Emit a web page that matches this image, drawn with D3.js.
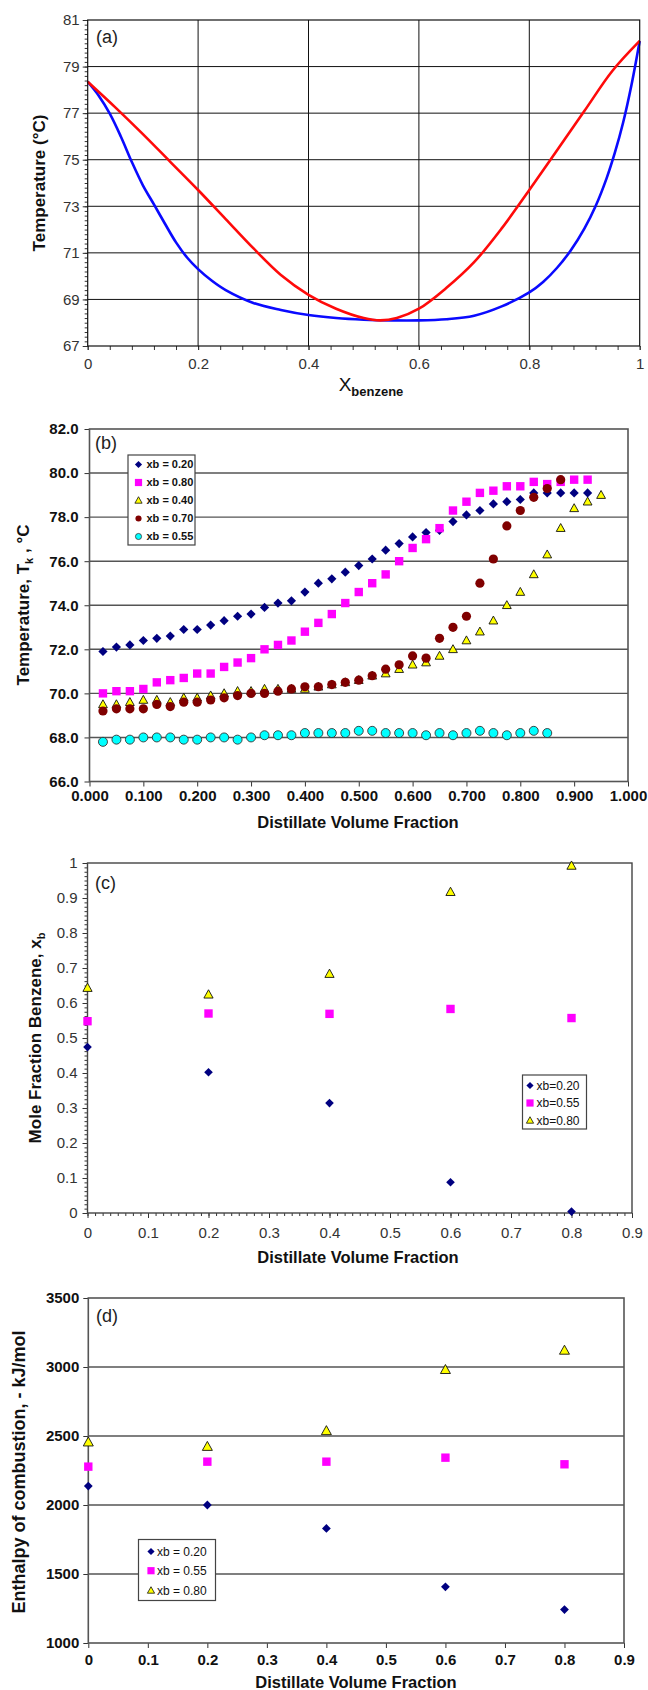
<!DOCTYPE html>
<html>
<head>
<meta charset="utf-8">
<script src="https://cdn.jsdelivr.net/npm/d3@7"></script>
<style>
  body { margin: 0; background: #fff; }
  svg { display: block; }
  text { font-family: "Liberation Sans", Arial, sans-serif; }
</style>
</head>
<body>
<div id="chart"></div>
<script>
// ---------- (a) T-x diagram ----------
const liquidX = [0, 0.02, 0.04, 0.06, 0.08, 0.1, 0.12, 0.14, 0.16, 0.18, 0.2, 0.225, 0.25, 0.3, 0.35, 0.4, 0.45, 0.5, 0.55, 0.6, 0.65, 0.7, 0.75, 0.8, 0.825, 0.85, 0.875, 0.9, 0.92, 0.94, 0.955, 0.97, 0.985, 1.0];
const liquidT = [78.35, 77.75, 76.98, 76.0, 74.9, 73.9, 73.08, 72.25, 71.45, 70.8, 70.3, 69.8, 69.4, 68.85, 68.55, 68.33, 68.2, 68.13, 68.1, 68.1, 68.15, 68.3, 68.7, 69.3, 69.75, 70.35, 71.1, 72.05, 73.0, 74.2, 75.3, 76.6, 78.2, 80.1];
const vapourX = [0, 0.05, 0.1, 0.15, 0.2, 0.25, 0.3, 0.35, 0.4, 0.45, 0.5, 0.53, 0.56, 0.6, 0.65, 0.7, 0.75, 0.8, 0.85, 0.9, 0.95, 1.0];
const vapourT = [78.35, 77.25, 76.1, 74.9, 73.7, 72.45, 71.2, 70.05, 69.2, 68.6, 68.2, 68.1, 68.2, 68.6, 69.5, 70.6, 72.05, 73.7, 75.4, 77.1, 78.8, 80.1];
const aXTicks = [0, 0.2, 0.4, 0.6, 0.8, 1];
const aYTicks = [67, 69, 71, 73, 75, 77, 79, 81];

// ---------- (b) distillation curves ----------
const distFracB = [0.025, 0.05, 0.075, 0.1, 0.125, 0.15, 0.175, 0.2, 0.225, 0.25, 0.275, 0.3, 0.325, 0.35, 0.375, 0.4, 0.425, 0.45, 0.475, 0.5, 0.525, 0.55, 0.575, 0.6, 0.625, 0.65, 0.675, 0.7, 0.725, 0.75, 0.775, 0.8, 0.825, 0.85, 0.875, 0.9, 0.925, 0.95];
const tXb020 = [71.9, 72.1, 72.2, 72.4, 72.5, 72.6, 72.9, 72.9, 73.1, 73.3, 73.5, 73.6, 73.9, 74.1, 74.2, 74.6, 75.0, 75.2, 75.5, 75.8, 76.1, 76.5, 76.8, 77.1, 77.3, 77.4, 77.8, 78.1, 78.3, 78.6, 78.7, 78.8, 79.1, 79.1, 79.1, 79.1, 79.1];
const tXb080 = [70.0, 70.1, 70.1, 70.2, 70.5, 70.6, 70.7, 70.9, 70.9, 71.2, 71.4, 71.6, 72.0, 72.2, 72.4, 72.8, 73.2, 73.6, 74.1, 74.6, 75.0, 75.4, 76.0, 76.6, 77.0, 77.5, 78.3, 78.7, 79.1, 79.2, 79.4, 79.4, 79.6, 79.5, 79.6, 79.7, 79.7];
const tXb040 = [69.5, 69.5, 69.6, 69.7, 69.7, 69.6, 69.8, 69.8, 69.9, 70.0, 70.1, 70.1, 70.2, 70.2, 70.2, 70.2, 70.3, 70.4, 70.5, 70.6, 70.8, 70.9, 71.1, 71.3, 71.4, 71.7, 72.0, 72.4, 72.8, 73.3, 74.0, 74.6, 75.4, 76.3, 77.5, 78.4, 78.7, 79.0];
const tXb070 = [69.2, 69.3, 69.3, 69.3, 69.5, 69.4, 69.6, 69.6, 69.7, 69.8, 69.9, 70.0, 70.0, 70.1, 70.2, 70.3, 70.3, 70.4, 70.5, 70.6, 70.8, 71.1, 71.3, 71.7, 71.6, 72.5, 73.0, 73.5, 75.0, 76.1, 77.6, 78.3, 78.9, 79.3, 79.7];
const tXb055 = [67.8, 67.9, 67.9, 68.0, 68.0, 68.0, 67.9, 67.9, 68.0, 68.0, 67.9, 68.0, 68.1, 68.1, 68.1, 68.2, 68.2, 68.2, 68.2, 68.3, 68.3, 68.2, 68.2, 68.2, 68.1, 68.2, 68.1, 68.2, 68.3, 68.2, 68.1, 68.2, 68.3, 68.2];
const bXTicks = [0, 0.1, 0.2, 0.3, 0.4, 0.5, 0.6, 0.7, 0.8, 0.9, 1.0];
const bYTicks = [66, 68, 70, 72, 74, 76, 78, 80, 82];

// ---------- (c) mole fraction / (d) enthalpy ----------
const distFracCD = [0, 0.2, 0.4, 0.6, 0.8];
const molXb020 = [0.474, 0.402, 0.314, 0.088, 0.004];
const molXb055 = [0.548, 0.570, 0.569, 0.583, 0.557];
const molXb080 = [0.643, 0.624, 0.683, 0.917, 0.992];
const enthXb020 = [2137, 2000, 1830, 1407, 1242];
const enthXb055 = [2278, 2314, 2314, 2343, 2295];
const enthXb080 = [2455, 2423, 2537, 2980, 3120];
const cdXTicks = [0, 0.1, 0.2, 0.3, 0.4, 0.5, 0.6, 0.7, 0.8, 0.9];
const cYTicks = [0, 0.1, 0.2, 0.3, 0.4, 0.5, 0.6, 0.7, 0.8, 0.9, 1];
const dYTicks = [1000, 1500, 2000, 2500, 3000, 3500];

const width = 648;
const height = 1690;

const svg = d3.select("#chart")
    .append("svg")
    .attr("width", width)
    .attr("height", height)
    .attr("viewBox", [0, 0, width, height]);

// marker shapes, r = half width
function markerPath(type, r) {
    if (type === "diamond") return `M0,${-r}L${r},0L0,${r}L${-r},0Z`;
    if (type === "square") return `M${-r},${-r}H${r}V${r}H${-r}Z`;
    if (type === "triangle") return `M0,${-r * 1.05}L${r},${r * 0.75}L${-r},${r * 0.75}Z`;
    return d3.arc()({ innerRadius: 0, outerRadius: r, startAngle: 0, endAngle: 2 * Math.PI });
}

const styles = {
    s020: { type: "diamond", fill: "#000080", stroke: "none" },
    s080: { type: "square", fill: "#ff00ff", stroke: "none" },
    s040: { type: "triangle", fill: "#ffff00", stroke: "#111" },
    s070: { type: "circle", fill: "#800000", stroke: "none" },
    s055: { type: "circle", fill: "#00ffff", stroke: "#333" }
};

function drawPoints(g, xs, ys, x, y, st, r) {
    g.append("g")
        .selectAll("path")
        .data(ys.map((v, i) => [xs[i], v]))
        .join("path")
        .attr("transform", d => `translate(${x(d[0])},${y(d[1])})`)
        .attr("d", markerPath(st.type, r))
        .attr("fill", st.fill)
        .attr("stroke", st.stroke)
        .attr("stroke-width", 0.9);
}

function drawLegend(g, x0, y0, w, h, items, mx, tx, rows, fontSize, weight, r) {
    const lg = g.append("g");
    lg.append("rect")
        .attr("x", x0).attr("y", y0).attr("width", w).attr("height", h)
        .attr("fill", "#fff").attr("stroke", "#444").attr("stroke-width", 1.2);
    items.forEach((it, i) => {
        lg.append("path")
            .attr("transform", `translate(${mx},${rows[i]})`)
            .attr("d", markerPath(it.st.type, it.st.type === "circle" ? r * 0.85 : r))
            .attr("fill", it.st.fill)
            .attr("stroke", it.st.stroke)
            .attr("stroke-width", 0.8);
        lg.append("text")
            .attr("x", tx).attr("y", rows[i]).attr("dy", "0.36em")
            .attr("font-size", fontSize).attr("font-weight", weight)
            .attr("fill", "#111")
            .text(it.label);
    });
}

function styleAxis(sel, fontSize, weight, color) {
    sel.select(".domain").remove();
    sel.selectAll(".tick line").attr("stroke", "#333");
    sel.selectAll(".tick text")
        .attr("font-size", fontSize)
        .attr("font-weight", weight)
        .attr("fill", color)
        .attr("font-family", "'Liberation Sans', Arial, sans-serif");
}

// =================== (a) ===================
{
    const x = d3.scaleLinear().domain([0, 1]).range([87.7, 639.7]);
    const y = d3.scaleLinear().domain([67, 81]).range([346, 20]);
    const g = svg.append("g");

    g.append("g").selectAll("line")
        .data(aYTicks.slice(1, -1))
        .join("line")
        .attr("x1", x(0)).attr("x2", x(1))
        .attr("y1", d => y(d)).attr("y2", d => y(d))
        .attr("stroke", "#111").attr("stroke-width", 1);
    g.append("g").selectAll("line")
        .data(aXTicks.slice(1, -1))
        .join("line")
        .attr("x1", d => x(d)).attr("x2", d => x(d))
        .attr("y1", y(67)).attr("y2", y(81))
        .attr("stroke", "#111").attr("stroke-width", 1);

    // minor ticks
    g.append("g").attr("transform", `translate(0,${y(67)})`)
        .call(d3.axisBottom(x).tickValues(d3.range(0, 26).map(i => i * 0.04)).tickSize(4).tickFormat(""))
        .call(s => styleAxis(s, 0, "normal", "#333"));
    g.append("g").attr("transform", `translate(${x(0)},0)`)
        .call(d3.axisLeft(y).tickValues(d3.range(0, 71).map(i => 67 + i * 0.2)).tickSize(3).tickFormat(""))
        .call(s => styleAxis(s, 0, "normal", "#333"));

    g.append("g").attr("transform", `translate(0,${y(67)})`)
        .call(d3.axisBottom(x).tickValues(aXTicks).tickSize(4).tickPadding(8).tickFormat(d3.format("")))
        .call(s => styleAxis(s, 15, "normal", "#333"));
    g.append("g").attr("transform", `translate(${x(0)},0)`)
        .call(d3.axisLeft(y).tickValues(aYTicks).tickSize(5).tickPadding(3))
        .call(s => styleAxis(s, 15, "normal", "#333"));

    const line = d3.line().x(d => x(d[0])).y(d => y(d[1])).curve(d3.curveCatmullRom.alpha(0.5));
    g.append("path")
        .datum(liquidX.map((v, i) => [v, liquidT[i]]))
        .attr("d", line)
        .attr("fill", "none").attr("stroke", "#0a0aff").attr("stroke-width", 2.6);
    g.append("path")
        .datum(vapourX.map((v, i) => [v, vapourT[i]]))
        .attr("d", line)
        .attr("fill", "none").attr("stroke", "#ff0a0a").attr("stroke-width", 2.6);

    g.append("rect")
        .attr("x", x(0)).attr("y", y(81))
        .attr("width", x(1) - x(0)).attr("height", y(67) - y(81))
        .attr("fill", "none").attr("stroke", "#111").attr("stroke-width", 1.2);

    g.append("text").attr("x", 96).attr("y", 43).attr("font-size", 18).attr("fill", "#222").text("(a)");

    g.append("text")
        .attr("transform", "translate(39,183) rotate(-90)")
        .attr("text-anchor", "middle").attr("dy", "0.35em")
        .attr("font-size", 17).attr("font-weight", "bold").attr("fill", "#111")
        .text("Temperature (°C)");

    const xt = g.append("text")
        .attr("x", 371).attr("y", 391)
        .attr("text-anchor", "middle").attr("fill", "#111");
    xt.append("tspan").attr("font-size", 19).text("X");
    xt.append("tspan").attr("font-size", 13).attr("font-weight", "bold").attr("dy", 5).text("benzene");
}

// =================== (b) ===================
{
    const x = d3.scaleLinear().domain([0, 1]).range([89.5, 628]);
    const y = d3.scaleLinear().domain([66, 82]).range([781.5, 429]);
    const g = svg.append("g");

    g.append("g").selectAll("line")
        .data(bYTicks.slice(1, -1))
        .join("line")
        .attr("x1", x(0)).attr("x2", x(1))
        .attr("y1", d => y(d)).attr("y2", d => y(d))
        .attr("stroke", "#555").attr("stroke-width", 1.4);

    g.append("g").attr("transform", `translate(0,${y(66)})`)
        .call(d3.axisBottom(x).tickValues(bXTicks).tickSize(5).tickPadding(4).tickFormat(d3.format(".3f")))
        .call(s => styleAxis(s, 15, "bold", "#111"));
    g.append("g").attr("transform", `translate(${x(0)},0)`)
        .call(d3.axisLeft(y).tickValues(bYTicks).tickSize(5).tickPadding(6).tickFormat(d3.format(".1f")))
        .call(s => styleAxis(s, 15, "bold", "#111"));

    g.append("rect")
        .attr("x", x(0)).attr("y", y(82))
        .attr("width", x(1) - x(0)).attr("height", y(66) - y(82))
        .attr("fill", "none").attr("stroke", "#555").attr("stroke-width", 1.6);

    drawPoints(g, distFracB, tXb020, x, y, styles.s020, 4.6);
    drawPoints(g, distFracB, tXb080, x, y, styles.s080, 4.2);
    drawPoints(g, distFracB, tXb040, x, y, styles.s040, 4.4);
    drawPoints(g, distFracB, tXb070, x, y, styles.s070, 4.6);
    drawPoints(g, distFracB, tXb055, x, y, styles.s055, 4.5);

    drawLegend(g, 128, 455, 67, 90, [
        { st: styles.s020, label: "xb = 0.20" },
        { st: styles.s080, label: "xb = 0.80" },
        { st: styles.s040, label: "xb = 0.40" },
        { st: styles.s070, label: "xb = 0.70" },
        { st: styles.s055, label: "xb = 0.55" }
    ], 138.5, 146.5, [464.5, 482.5, 500.5, 518.5, 536.5], 11, "bold", 3.6);

    g.append("text").attr("x", 95).attr("y", 449).attr("font-size", 18).attr("fill", "#222").text("(b)");

    const yt = g.append("text")
        .attr("transform", "translate(23,605) rotate(-90)")
        .attr("text-anchor", "middle").attr("dy", "0.35em")
        .attr("font-size", 17).attr("font-weight", "bold").attr("fill", "#111");
    yt.append("tspan").text("Temperature, T");
    yt.append("tspan").attr("font-size", 11).attr("dy", 4).text("k");
    yt.append("tspan").attr("dy", -4).text(" , °C");

    g.append("text")
        .attr("x", 358).attr("y", 822).attr("dy", "0.35em")
        .attr("text-anchor", "middle")
        .attr("font-size", 16.5).attr("font-weight", "bold").attr("fill", "#111")
        .text("Distillate Volume Fraction");
}

// =================== (c) ===================
{
    const x = d3.scaleLinear().domain([0, 0.9]).range([87.5, 632]);
    const y = d3.scaleLinear().domain([0, 1]).range([1213, 863]);
    const g = svg.append("g");

    g.append("g").attr("transform", `translate(0,${y(0)})`)
        .call(d3.axisBottom(x).tickValues(d3.range(0, 73).map(i => i * 0.0125)).tickSize(3).tickFormat(""))
        .call(s => styleAxis(s, 0, "normal", "#333"));
    g.append("g").attr("transform", `translate(${x(0)},0)`)
        .call(d3.axisLeft(y).tickValues(d3.range(0, 81).map(i => i * 0.0125)).tickSize(3).tickFormat(""))
        .call(s => styleAxis(s, 0, "normal", "#333"));

    g.append("g").attr("transform", `translate(0,${y(0)})`)
        .call(d3.axisBottom(x).tickValues(cdXTicks).tickSize(5).tickPadding(9).tickFormat(d3.format("")))
        .call(s => styleAxis(s, 15, "normal", "#333"));
    g.append("g").attr("transform", `translate(${x(0)},0)`)
        .call(d3.axisLeft(y).tickValues(cYTicks).tickSize(5).tickPadding(5).tickFormat(d3.format("")))
        .call(s => styleAxis(s, 15, "normal", "#333"));

    g.append("rect")
        .attr("x", x(0)).attr("y", y(1))
        .attr("width", x(0.9) - x(0)).attr("height", y(0) - y(1))
        .attr("fill", "none").attr("stroke", "#444").attr("stroke-width", 1.4);

    drawPoints(g, distFracCD, molXb020, x, y, styles.s020, 4.3);
    drawPoints(g, distFracCD, molXb055, x, y, styles.s080, 4.2);
    drawPoints(g, distFracCD, molXb080, x, y, styles.s040, 4.6);

    drawLegend(g, 522.5, 1075, 64, 54, [
        { st: styles.s020, label: "xb=0.20" },
        { st: styles.s080, label: "xb=0.55" },
        { st: styles.s040, label: "xb=0.80" }
    ], 530, 536.5, [1085.5, 1103, 1120.5], 12, "normal", 3.6);

    g.append("text").attr("x", 95).attr("y", 889).attr("font-size", 18).attr("fill", "#222").text("(c)");

    const yt = g.append("text")
        .attr("transform", "translate(35,1038) rotate(-90)")
        .attr("text-anchor", "middle").attr("dy", "0.35em")
        .attr("font-size", 17).attr("font-weight", "bold").attr("fill", "#111");
    yt.append("tspan").text("Mole Fraction Benzene, x");
    yt.append("tspan").attr("font-size", 11).attr("dy", 4).text("b");

    g.append("text")
        .attr("x", 358).attr("y", 1257).attr("dy", "0.35em")
        .attr("text-anchor", "middle")
        .attr("font-size", 16.5).attr("font-weight", "bold").attr("fill", "#111")
        .text("Distillate Volume Fraction");
}

// =================== (d) ===================
{
    const x = d3.scaleLinear().domain([0, 0.9]).range([88.3, 624]);
    const y = d3.scaleLinear().domain([1000, 3500]).range([1643, 1298]);
    const g = svg.append("g");

    g.append("g").selectAll("line")
        .data(dYTicks.slice(1, -1))
        .join("line")
        .attr("x1", x(0)).attr("x2", x(0.9))
        .attr("y1", d => y(d)).attr("y2", d => y(d))
        .attr("stroke", "#555").attr("stroke-width", 1.4);

    g.append("g").attr("transform", `translate(0,${y(1000)})`)
        .call(d3.axisBottom(x).tickValues(cdXTicks).tickSize(5).tickPadding(6).tickFormat(d3.format("")))
        .call(s => styleAxis(s, 15, "bold", "#111"));
    g.append("g").attr("transform", `translate(${x(0)},0)`)
        .call(d3.axisLeft(y).tickValues(dYTicks).tickSize(5).tickPadding(4).tickFormat(d3.format("d")))
        .call(s => styleAxis(s, 15, "bold", "#111"));

    g.append("rect")
        .attr("x", x(0)).attr("y", y(3500))
        .attr("width", x(0.9) - x(0)).attr("height", y(1000) - y(3500))
        .attr("fill", "none").attr("stroke", "#555").attr("stroke-width", 1.6);

    drawPoints(g, distFracCD, enthXb020, x, y, styles.s020, 4.4);
    drawPoints(g, distFracCD, enthXb055, x, y, styles.s080, 4.2);
    drawPoints(g, distFracCD, enthXb080, x, y, styles.s040, 5);

    drawLegend(g, 138.5, 1539.5, 77, 61, [
        { st: styles.s020, label: "xb = 0.20" },
        { st: styles.s080, label: "xb = 0.55" },
        { st: styles.s040, label: "xb = 0.80" }
    ], 151, 157, [1551.5, 1570.7, 1590.5], 12, "normal", 3.6);

    g.append("text").attr("x", 96).attr("y", 1322).attr("font-size", 18).attr("fill", "#222").text("(d)");

    g.append("text")
        .attr("transform", "translate(19,1472) rotate(-90)")
        .attr("text-anchor", "middle").attr("dy", "0.35em")
        .attr("font-size", 18).attr("font-weight", "bold").attr("fill", "#111")
        .text("Enthalpy of combustion, - kJ/mol");

    g.append("text")
        .attr("x", 356).attr("y", 1682).attr("dy", "0.35em")
        .attr("text-anchor", "middle")
        .attr("font-size", 16.5).attr("font-weight", "bold").attr("fill", "#111")
        .text("Distillate Volume Fraction");
}
</script>
</body>
</html>
